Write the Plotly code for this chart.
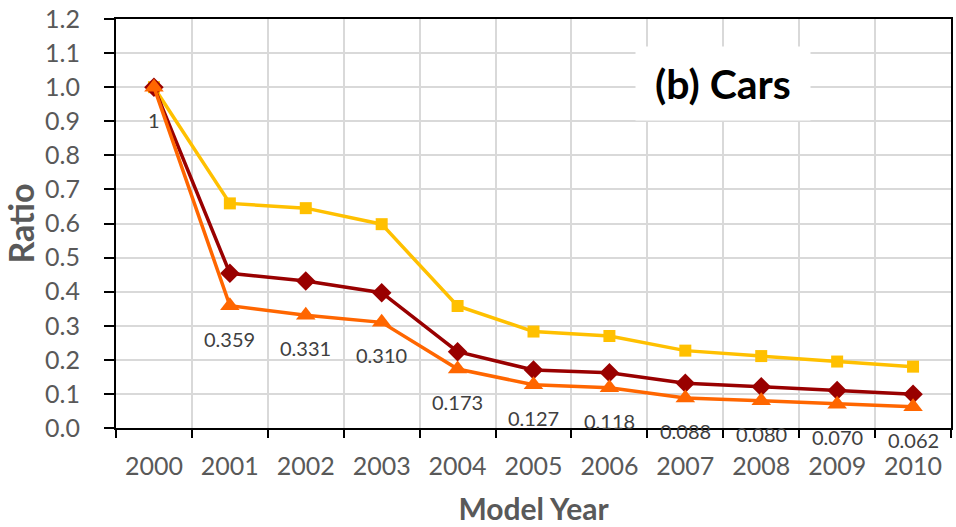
import plotly.graph_objects as go

years = [2000, 2001, 2002, 2003, 2004, 2005, 2006, 2007, 2008, 2009, 2010]
yellow_vals = [1.0, 0.659, 0.645, 0.598, 0.358, 0.283, 0.270, 0.227, 0.211, 0.195, 0.180]
darkred_vals = [1.0, 0.454, 0.431, 0.397, 0.224, 0.170, 0.162, 0.131, 0.121, 0.110, 0.099]
orange_vals = [1.0, 0.359, 0.331, 0.310, 0.173, 0.127, 0.118, 0.088, 0.080, 0.070, 0.062]
orange_labels = ["1", "0.359", "0.331", "0.310", "0.173", "0.127", "0.118", "0.088", "0.080", "0.070", "0.062"]
y_ticks = [round(0.1 * i, 1) for i in range(13)]

FONT = "Lato"

fig = go.Figure()
fig.add_trace(go.Scatter(x=years, y=yellow_vals, mode="lines+markers",
                         line=dict(color="#FFC000", width=3.5),
                         marker=dict(symbol="square", size=12, color="#FFC000"),
                         showlegend=False))
fig.add_trace(go.Scatter(x=years, y=darkred_vals, mode="lines+markers",
                         line=dict(color="#990000", width=3.5),
                         marker=dict(symbol="diamond", size=15, color="#990000"),
                         showlegend=False))
fig.add_trace(go.Scatter(x=years, y=orange_vals, mode="lines+markers",
                         line=dict(color="#FF6600", width=3.5),
                         marker=dict(symbol="triangle-up", size=17, color="#FF6600"),
                         showlegend=False))

for x, y, t in zip(years, orange_vals, orange_labels):
    fig.add_annotation(x=x, y=y, text=t, showarrow=False, yshift=-33,
                       font=dict(family=FONT, size=20, color="#404040"))

# title box
fig.add_annotation(xref="paper", yref="paper", x=(723 - 116) / 835, y=(428 - 83.5) / 409,
                   xanchor="center", yanchor="middle",
                   text="<b>(b) Cars</b>", showarrow=False,
                   width=174, height=73, bgcolor="white", borderpad=0,
                   font=dict(family=FONT, size=41, color="black"))

fig.update_layout(
    width=956, height=527,
    margin=dict(l=116, r=5, t=19, b=99),
    paper_bgcolor="white", plot_bgcolor="white",
    font=dict(family=FONT),
)
fig.update_xaxes(
    range=[years[0] - 0.5, years[-1] + 0.5], automargin=False,
    tickmode="array", tickvals=years, ticktext=[str(y) for y in years],
    showgrid=False, ticks="",
    minor=dict(tick0=years[0] - 0.5, dtick=1, showgrid=True, gridcolor="#D9D9D9", gridwidth=1.5,
               ticks="outside", ticklen=8, tickwidth=2, tickcolor="black"),
    showline=True, linecolor="black", linewidth=2, mirror=True,
    tickfont=dict(family=FONT, size=25, color="#595959"),
    ticklabelstandoff=15, zeroline=False, ticklabeloverflow="allow",
    title=dict(text="<b>Model Year</b>", font=dict(family=FONT, size=30, color="#595959"), standoff=20),
)
fig.update_yaxes(
    range=[0, 1.2], tickvals=y_ticks, tickformat=".1f", automargin=False,
    showgrid=True, gridcolor="#D9D9D9", gridwidth=1.5,
    showline=True, linecolor="black", linewidth=2, mirror=True,
    ticks="outside", ticklen=10, tickwidth=2, tickcolor="black",
    tickfont=dict(family=FONT, size=25, color="#595959"),
    ticklabelstandoff=19, zeroline=False, ticklabeloverflow="allow",
    title=dict(text="<b>Ratio</b>", font=dict(family=FONT, size=34, color="#595959"), standoff=6),
)

fig.write_html("out.html", config={"displayModeBar": False},
               post_script="document.body.style.margin='0';")
